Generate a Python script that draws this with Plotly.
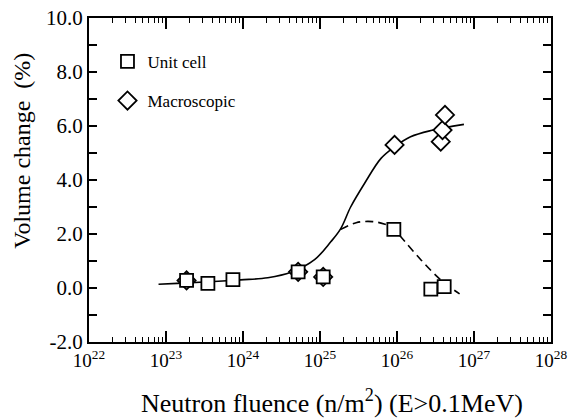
import plotly.graph_objects as go

# ---- data ----
unit_cell_x = [1.85e23, 3.5e23, 7.4e23, 5.2e24, 1.1e25, 9.1e25, 2.75e26, 4.1e26]
unit_cell_y = [0.28, 0.17, 0.31, 0.60, 0.41, 2.17, -0.04, 0.05]

macro_x = [1.85e23, 5.2e24, 1.1e25, 9.3e25, 3.7e26, 3.9e26, 4.2e26]
macro_y = [0.28, 0.60, 0.41, 5.30, 5.42, 5.85, 6.41]

# hand-drawn fit curves from the figure
solid_x = [8e22, 1.4e23, 3.2e23, 9.3e23, 2.1e24, 4.2e24, 8.5e24, 1.38e25,
           1.86e25, 2.5e25, 3.8e25, 6.2e25, 9.3e25, 1.5e26, 2.75e26, 7.4e26]
solid_y = [0.14, 0.17, 0.22, 0.30, 0.38, 0.58, 1.05, 1.71,
           2.20, 3.00, 3.88, 4.80, 5.23, 5.60, 5.83, 6.06]

dash_x = [1.86e25, 2.95e25, 4.8e25, 6.8e25, 9.1e25, 1.12e26, 2.05e26, 3.7e26, 6.5e26]
dash_y = [2.17, 2.42, 2.46, 2.37, 2.20, 1.90, 1.04, 0.30, -0.22]

x_tickvals = [1e22, 1e23, 1e24, 1e25, 1e26, 1e27, 1e28]
x_ticktext = ["10<sup>22</sup>", "10<sup>23</sup>", "10<sup>24</sup>", "10<sup>25</sup>",
              "10<sup>26</sup>", "10<sup>27</sup>", "10<sup>28</sup>"]
x_minor_vals = [m * d for d in x_tickvals[:-1] for m in range(2, 10)]
y_tickvals = [-2, 0, 2, 4, 6, 8, 10]
y_ticktext = ["-2.0", "0.0", "2.0", "4.0", "6.0", "8.0", "10.0"]

FONT = "Liberation Serif"

fig = go.Figure()

fig.add_trace(go.Scatter(x=solid_x, y=solid_y, mode="lines",
                         line=dict(color="black", width=1.6, shape="spline"),
                         showlegend=False, hoverinfo="skip"))
fig.add_trace(go.Scatter(x=dash_x, y=dash_y, mode="lines",
                         line=dict(color="black", width=1.6, shape="spline", dash="8px,5px"),
                         showlegend=False, hoverinfo="skip"))
fig.add_trace(go.Scatter(x=macro_x, y=macro_y, mode="markers", name="Macroscopic",
                         legendgroup="b", legendrank=2,
                         marker=dict(symbol="diamond", size=14, color="white",
                                     line=dict(color="black", width=1.8))))
fig.add_trace(go.Scatter(x=unit_cell_x, y=unit_cell_y, mode="markers", name="Unit cell",
                         legendgroup="a", legendrank=1,
                         marker=dict(symbol="square", size=13, color="white",
                                     line=dict(color="black", width=1.8))))

fig.update_layout(
    width=572, height=418,
    margin=dict(l=89, r=21, t=18, b=76, autoexpand=False),
    paper_bgcolor="white", plot_bgcolor="white",
    font=dict(family=FONT, color="black"),
    legend=dict(x=0.04, y=0.92, xanchor="left", yanchor="top",
                font=dict(family=FONT, size=17, color="black"),
                bgcolor="rgba(0,0,0,0)", tracegroupgap=14),
    annotations=[
        dict(text="Neutron fluence (n/m<sup>2</sup>) (E>0.1MeV)", xref="paper", yref="paper",
             x=0.525, y=-0.185, xanchor="center", yanchor="middle", showarrow=False,
             font=dict(family=FONT, size=26, color="black")),
        dict(text="Volume change  (%)", xref="paper", yref="paper",
             x=-0.145, y=0.59, xanchor="center", yanchor="middle", showarrow=False,
             textangle=-90, font=dict(family=FONT, size=24, color="black")),
    ],
)

fig.update_xaxes(type="log", range=[22, 28], tickmode="array", automargin=False,
                 tickvals=x_tickvals, ticktext=x_ticktext, ticklabeloverflow="allow",
                 ticks="inside", ticklen=11, tickwidth=1.5, tickcolor="black",
                 minor=dict(ticks="inside", ticklen=5, tickwidth=1.2, tickcolor="black",
                            tickmode="array", tickvals=x_minor_vals, showgrid=False),
                 showline=True, linecolor="black", linewidth=2, mirror="allticks",
                 showgrid=False, zeroline=False,
                 tickfont=dict(family=FONT, size=19, color="black"))
fig.update_yaxes(range=[-2, 10], tickmode="array", automargin=False,
                 tickvals=y_tickvals, ticktext=y_ticktext, ticklabeloverflow="allow",
                 ticks="inside", ticklen=8, tickwidth=1.5, tickcolor="black",
                 minor=dict(ticks="inside", ticklen=8, tickwidth=1.5, tickcolor="black",
                            dtick=1, showgrid=False),
                 showline=True, linecolor="black", linewidth=2, mirror="allticks",
                 showgrid=False, zeroline=False,
                 tickfont=dict(family=FONT, size=21, color="black"))

# remove the browser's default 8px body margin so the figure fills the window
fig.write_html("out.html", config={"displayModeBar": False},
               post_script="document.body.style.margin='0px';")
